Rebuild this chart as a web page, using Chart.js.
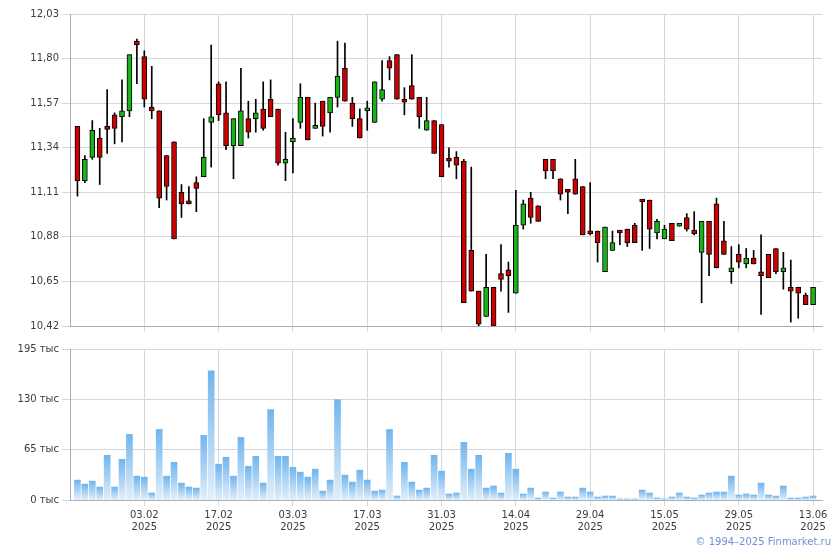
<!DOCTYPE html>
<html>
<head>
<meta charset="utf-8">
<script src="https://cdn.jsdelivr.net/npm/chart.js@4.4.1/dist/chart.umd.min.js"></script>
<style>
  body { margin: 0; background: #fff; }
  #wrap { position: relative; width: 840px; height: 550px; }
  #price { position: absolute; left: 0; top: 0; }
  #vol { position: absolute; left: 0; top: 340px; }
  #copy { position: absolute; right: 9px; top: 535px; font: 10px "DejaVu Sans"; color: #6f8fd8; line-height: 13px; }
</style>
</head>
<body>
<div id="wrap">
  <canvas id="price" width="840" height="340"></canvas>
  <canvas id="vol" width="840" height="210"></canvas>
  <div id="copy">© 1994–2025 Finmarket.ru</div>
</div>
<script>
// daily candles, 21.01.2025 - 13.06.2025 (trading days)
const open = [11.45,11.17,11.29,11.39,11.44,11.51,11.50,11.53,11.89,11.81,
  11.55,11.53,11.30,11.37,11.11,11.055,11.16,11.19,11.47,11.67,
  11.52,11.35,11.35,11.49,11.49,11.54,11.59,11.54,11.26,11.37,
  11.47,11.60,11.44,11.58,11.52,11.60,11.75,11.57,11.49,11.53,
  11.47,11.59,11.79,11.82,11.585,11.66,11.60,11.43,11.48,11.46,
  11.28,11.29,11.27,10.81,10.60,10.47,10.62,10.69,10.71,10.59,
  10.94,11.08,11.04,11.28,11.28,11.18,11.12,11.18,11.14,10.905,
  10.91,10.70,10.81,10.905,10.92,10.94,11.065,11.07,10.90,10.87,
  10.95,10.935,10.98,10.915,10.80,10.96,11.05,10.86,10.70,10.79,
  10.74,10.77,10.70,10.79,10.82,10.70,10.62,10.62,10.58,10.53];
const high = [11.45,11.30,11.48,11.44,11.64,11.52,11.69,11.82,11.90,11.84,
  11.76,11.53,11.30,11.37,11.15,11.14,11.19,11.49,11.87,11.68,
  11.68,11.49,11.75,11.58,11.59,11.68,11.69,11.54,11.42,11.49,
  11.67,11.60,11.57,11.58,11.60,11.89,11.88,11.60,11.54,11.58,
  11.68,11.79,11.81,11.82,11.65,11.82,11.60,11.60,11.48,11.46,
  11.34,11.32,11.28,11.24,10.60,10.79,10.62,10.84,10.75,11.12,
  11.07,11.11,11.04,11.28,11.28,11.18,11.12,11.28,11.14,11.16,
  10.91,10.93,10.91,10.91,10.92,10.95,11.07,11.07,10.97,10.94,
  10.95,10.95,11.00,11.01,10.96,10.96,11.08,10.96,10.83,10.84,
  10.82,10.81,10.89,10.79,10.82,10.80,10.76,10.62,10.59,10.62];
const low = [11.09,11.16,11.28,11.15,11.31,11.36,11.37,11.50,11.67,11.55,
  11.49,11.03,11.07,10.87,10.98,11.05,11.01,11.19,11.24,11.48,
  11.33,11.18,11.35,11.39,11.42,11.43,11.50,11.25,11.17,11.21,
  11.44,11.38,11.44,11.40,11.42,11.55,11.58,11.45,11.39,11.43,
  11.47,11.58,11.69,11.59,11.51,11.59,11.44,11.43,11.31,11.19,
  11.24,11.18,10.54,10.60,10.42,10.47,10.42,10.60,10.49,10.59,
  10.92,10.95,10.96,11.18,11.18,11.07,11.00,11.10,10.89,10.89,
  10.75,10.70,10.81,10.84,10.83,10.85,10.81,10.82,10.87,10.87,
  10.86,10.935,10.91,10.89,10.54,10.68,10.72,10.79,10.64,10.72,
  10.72,10.74,10.48,10.67,10.69,10.61,10.44,10.46,10.53,10.53];
const close = [11.17,11.28,11.43,11.29,11.435,11.44,11.53,11.82,11.87,11.59,
  11.53,11.08,11.14,10.87,11.05,11.05,11.13,11.29,11.50,11.51,
  11.35,11.49,11.53,11.42,11.52,11.44,11.50,11.26,11.28,11.39,
  11.60,11.38,11.45,11.45,11.60,11.71,11.58,11.49,11.39,11.54,
  11.68,11.64,11.75,11.59,11.575,11.59,11.50,11.48,11.31,11.19,
  11.27,11.25,10.54,10.60,10.43,10.62,10.42,10.66,10.68,10.94,
  11.05,10.98,10.96,11.22,11.22,11.10,11.11,11.10,10.89,10.895,
  10.85,10.93,10.85,10.90,10.85,10.85,11.06,10.92,10.96,10.92,
  10.86,10.945,10.92,10.895,10.96,10.79,10.72,10.79,10.72,10.75,
  10.77,10.74,10.68,10.67,10.70,10.72,10.60,10.59,10.53,10.62];
// volume, thousands
const volume = [25.7,20.5,24.4,16.7,57.7,16.7,52.6,84.7,30.8,29.5,
  9.0,91.1,30.8,48.7,21.8,16.7,15.4,83.4,166.8,46.2,
  55.2,30.8,80.8,43.6,56.4,21.8,116.7,56.4,56.4,42.3,
  35.9,29.5,39.8,11.5,25.7,129.6,32.1,23.1,38.5,25.7,
  11.5,12.8,91.1,5.1,48.7,23.1,12.8,15.4,57.7,37.2,
  7.7,9.0,74.4,39.8,57.7,15.4,18.0,9.0,60.3,39.8,
  7.7,15.4,2.6,10.3,2.6,10.3,3.8,3.8,15.4,10.3,
  3.8,5.1,5.1,1.3,1.3,1.3,12.8,9.0,2.6,1.3,
  3.8,9.0,3.8,2.6,6.4,9.0,10.3,10.3,30.8,6.4,
  7.7,6.4,21.8,6.4,5.1,18.0,2.6,2.6,3.8,5.1];

const tickIdx = [9, 19, 29, 39, 49, 59, 69, 79, 89, 99];
const tickDates = ['03.02','17.02','03.03','17.03','31.03','14.04','29.04','15.05','29.05','13.06'];
const tickYear = '2025';
const priceTicks = [10.42, 10.65, 10.88, 11.11, 11.34, 11.57, 11.80, 12.03];
const volTicks = [0, 65, 130, 195];

const AXIS = '#a9aeb4', GRID = '#d3d8dc', TXT = '#3c3c3c';
Chart.defaults.font.family = 'DejaVu Sans';
Chart.defaults.font.size = 10;
Chart.defaults.color = TXT;

function xAxis(withLabels) {
  return {
    type: 'linear', min: -1, max: 100.2, offset: false,
    afterBuildTicks: s => { s.ticks = tickIdx.map(v => ({ value: v })); },
    afterFit: s => { s.height = withLabels ? 50 : 14; },
    grid: { color: GRID, tickColor: GRID, tickLength: 6, offset: false },
    border: { color: AXIS },
    ticks: {
      display: withLabels, autoSkip: false, maxRotation: 0, padding: 3,
      font: { lineHeight: 1.2 },
      callback: v => [tickDates[tickIdx.indexOf(v)], tickYear]
    }
  };
}

const idx = open.map((_, i) => i);
const bodies = idx.map(i => ({ x: i, y: [Math.min(open[i], close[i]), Math.max(open[i], close[i])] }));
const wicks = idx.map(i => ({ x: i, y: [low[i], high[i]] }));
const bodyColors = idx.map(i => close[i] >= open[i] ? '#19b319' : '#cc0000');

new Chart(document.getElementById('price'), {
  type: 'bar',
  data: {
    datasets: [
      { data: bodies, backgroundColor: bodyColors, borderColor: '#000', borderWidth: 1,
        borderSkipped: false, barThickness: 5, minBarLength: 3, grouped: false },
      { data: wicks, backgroundColor: '#000', borderWidth: 0, barThickness: 1, grouped: false }
    ]
  },
  options: {
    responsive: false, animation: false,
    layout: { padding: { top: 14, right: 18, left: 0, bottom: 0 } },
    plugins: { legend: { display: false }, tooltip: { enabled: false } },
    scales: {
      x: xAxis(false),
      y: {
        min: 10.42, max: 12.03, beginAtZero: false,
        afterBuildTicks: s => { s.ticks = priceTicks.map(v => ({ value: v })); },
        afterFit: s => { s.width = 70; },
        grid: { color: GRID, tickColor: GRID, tickLength: 8 },
        border: { color: AXIS },
        ticks: { padding: 3, callback: v => v.toFixed(2).replace('.', ',') }
      }
    }
  }
});

function volFill(ctx) {
  const chart = ctx.chart;
  if (!chart.chartArea || !ctx.parsed) return '#8ec5f2';
  const ys = chart.scales.y;
  const g = chart.ctx.createLinearGradient(0, ys.getPixelForValue(ctx.parsed.y), 0, ys.getPixelForValue(0));
  g.addColorStop(0, '#70b5ee');
  g.addColorStop(1, '#e3eff9');
  return g;
}

new Chart(document.getElementById('vol'), {
  type: 'bar',
  data: {
    datasets: [{ data: idx.map(i => ({ x: i, y: volume[i] })), backgroundColor: volFill,
      borderWidth: 0, barThickness: 6 }]
  },
  options: {
    responsive: false, animation: false,
    layout: { padding: { top: 9, right: 18, left: 0, bottom: 0 } },
    plugins: { legend: { display: false }, tooltip: { enabled: false } },
    scales: {
      x: xAxis(true),
      y: {
        min: 0, max: 195,
        afterBuildTicks: s => { s.ticks = volTicks.map(v => ({ value: v })); },
        afterFit: s => { s.width = 70; },
        grid: { color: GRID, tickColor: GRID, tickLength: 8 },
        border: { color: AXIS },
        ticks: { padding: 3, callback: v => v + ' тыс' }
      }
    }
  }
});
</script>
</body>
</html>
